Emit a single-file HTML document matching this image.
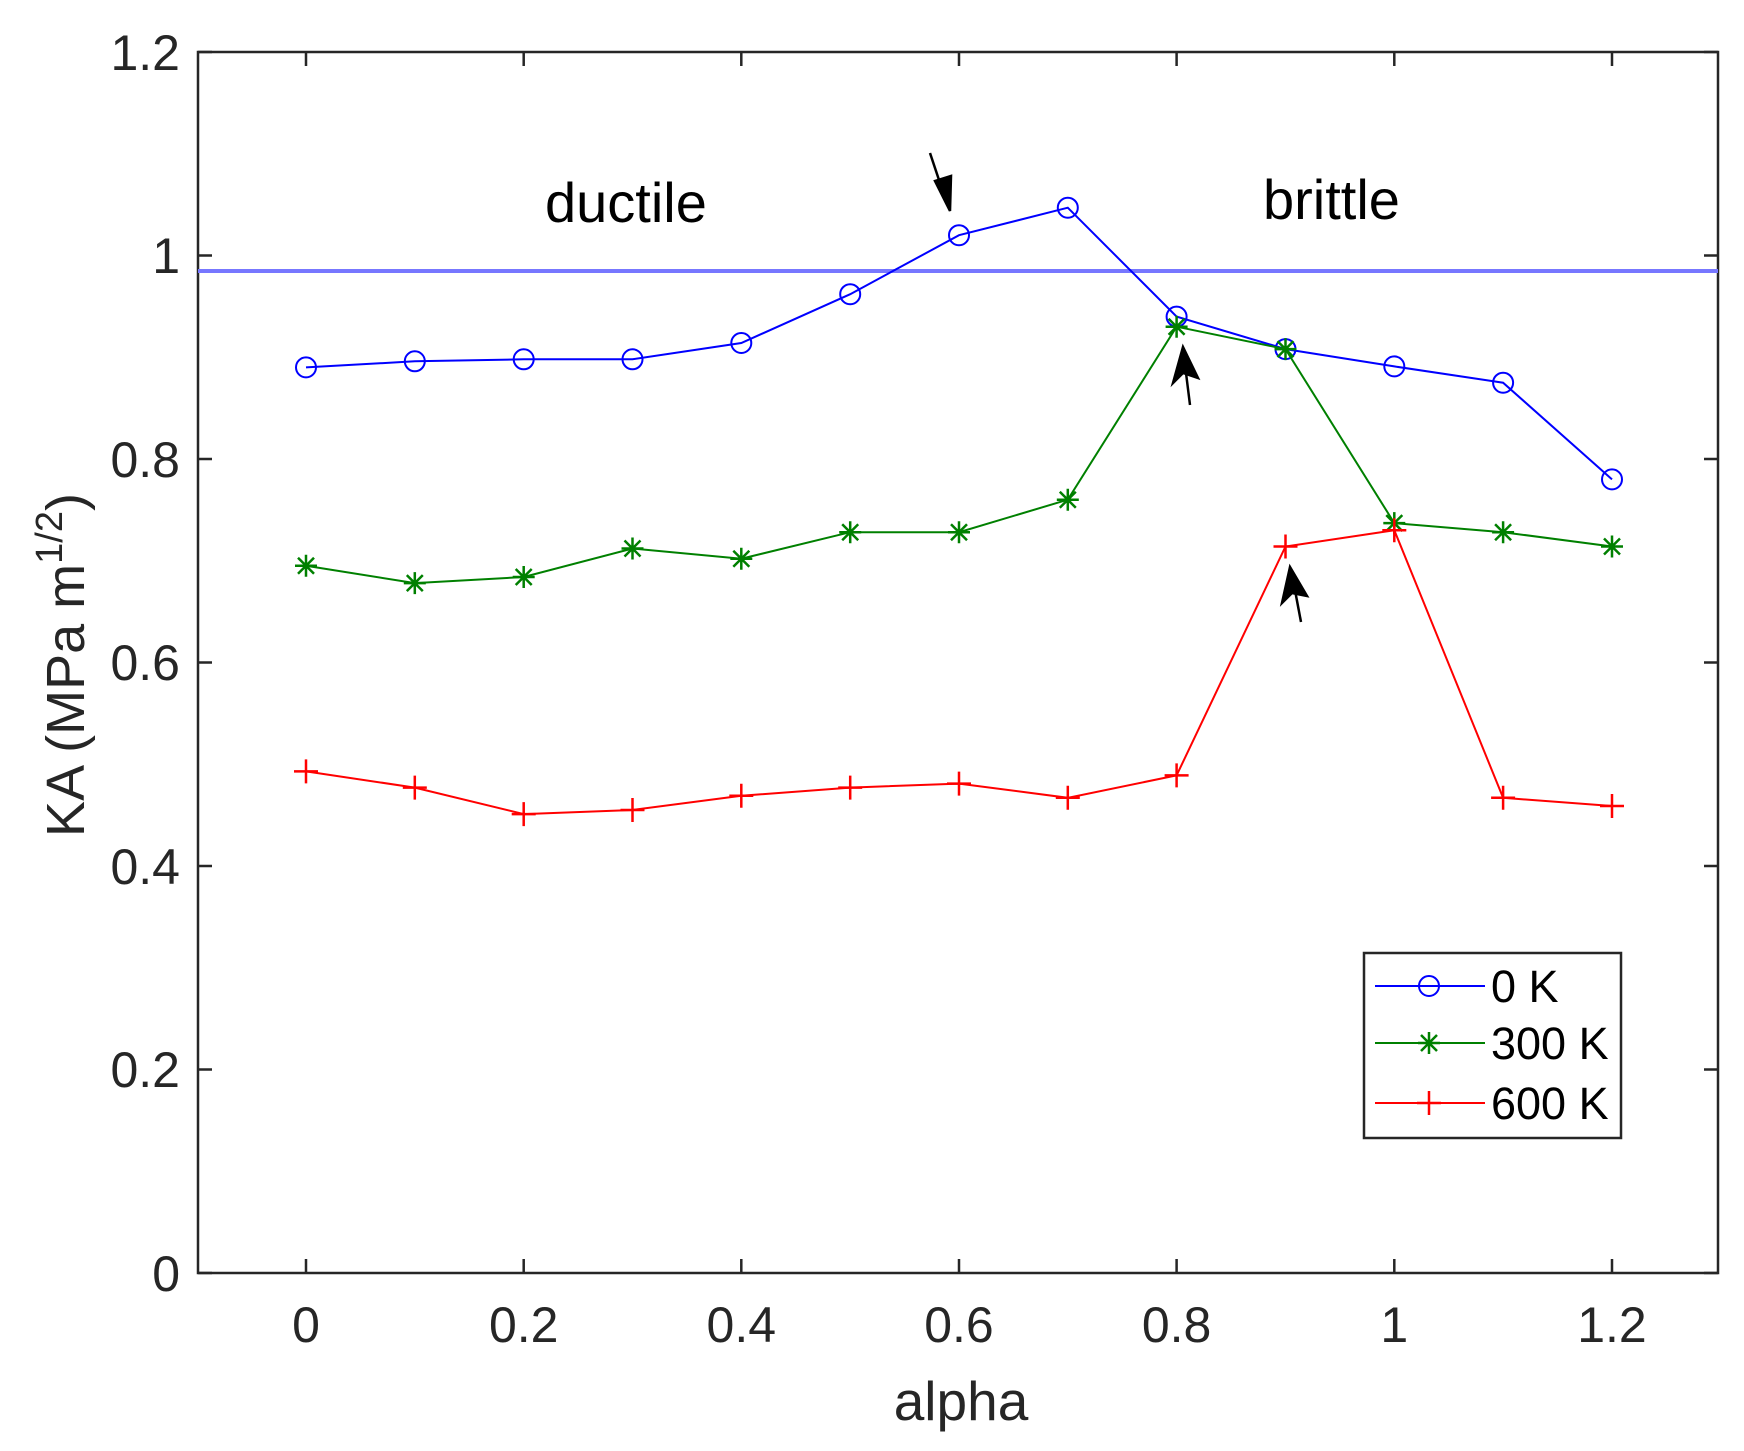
<!DOCTYPE html>
<html><head><meta charset="utf-8"><style>
html,body{margin:0;padding:0;background:#fff;}
svg text{font-family:"Liberation Sans",Arial,sans-serif;}
</style></head><body>
<svg width="1744" height="1446" viewBox="0 0 1744 1446" xmlns="http://www.w3.org/2000/svg">
<rect width="1744" height="1446" fill="#fff"/>
<g stroke="#262626" stroke-width="2.5" fill="none">
<rect x="198" y="52" width="1520" height="1221"/>
<path d="M306 1273v-14M523.7 1273v-14M741.3 1273v-14M959 1273v-14M1176.6 1273v-14M1394.3 1273v-14M1612 1273v-14
M306 52v14M523.7 52v14M741.3 52v14M959 52v14M1176.6 52v14M1394.3 52v14M1612 52v14
M198 1273h14M198 1069.5h14M198 866h14M198 662.5h14M198 459h14M198 255.5h14M198 52h14
M1718 1273h-14M1718 1069.5h-14M1718 866h-14M1718 662.5h-14M1718 459h-14M1718 255.5h-14M1718 52h-14"/>
</g>
<g fill="#262626" font-size="50" text-anchor="end">
<text x="180" y="1291">0</text><text x="180" y="1087">0.2</text><text x="180" y="884">0.4</text>
<text x="180" y="680">0.6</text><text x="180" y="477">0.8</text><text x="180" y="273">1</text><text x="180" y="70">1.2</text>
</g>
<g fill="#262626" font-size="50" text-anchor="middle">
<text x="306" y="1342">0</text><text x="523.7" y="1342">0.2</text><text x="741.3" y="1342">0.4</text>
<text x="959" y="1342">0.6</text><text x="1176.6" y="1342">0.8</text><text x="1394.3" y="1342">1</text><text x="1612" y="1342">1.2</text>
</g>
<text x="961" y="1420" font-size="55" fill="#262626" text-anchor="middle">alpha</text>
<text transform="translate(84,665) rotate(-90)" font-size="54" fill="#262626" text-anchor="middle">KA (MPa m<tspan dy="-22" font-size="38">1/2</tspan><tspan dy="22">)</tspan></text>
<text x="545" y="222" font-size="56" fill="#000">ductile</text>
<text x="1263" y="219" font-size="56" fill="#000">brittle</text>
<line x1="198" y1="271" x2="1718" y2="271" stroke="#7777ff" stroke-width="4"/>
<polyline fill="none" stroke="#0000ff" stroke-width="2" points="306,367.4 414.8,361.3 523.7,359.3 632.5,359.3 741.3,343 850.2,294.2 959,235.2 1067.8,207.7 1176.6,316.6 1285.5,349.1 1394.3,366.4 1503.1,382.7 1612,479.4"/>
<g fill="none" stroke="#0000ff" stroke-width="2">
<circle cx="306" cy="367.4" r="10"/><circle cx="414.8" cy="361.3" r="10"/><circle cx="523.7" cy="359.3" r="10"/><circle cx="632.5" cy="359.3" r="10"/><circle cx="741.3" cy="343" r="10"/><circle cx="850.2" cy="294.2" r="10"/><circle cx="959" cy="235.2" r="10"/><circle cx="1067.8" cy="207.7" r="10"/><circle cx="1176.6" cy="316.6" r="10"/><circle cx="1285.5" cy="349.1" r="10"/><circle cx="1394.3" cy="366.4" r="10"/><circle cx="1503.1" cy="382.7" r="10"/><circle cx="1612" cy="479.4" r="10"/>
</g>
<defs>
<g id="st"><path d="M-11 0h22M0 -11v22M-8 -8l16 16M-8 8l16 -16" stroke="#008000" stroke-width="2.5"/></g>
<g id="pl"><path d="M-12 0h24M0 -12v24" stroke="#ff0000" stroke-width="2.5"/></g>
</defs>
<polyline fill="none" stroke="#008000" stroke-width="2" points="306,565.8 414.8,583.1 523.7,577 632.5,548.5 741.3,558.7 850.2,532.2 959,532.2 1067.8,499.7 1176.6,326.7 1285.5,349.1 1394.3,523.1 1503.1,532.2 1612,546.5"/>
<g><use href="#st" x="306" y="565.8"/><use href="#st" x="414.8" y="583.1"/><use href="#st" x="523.7" y="577"/><use href="#st" x="632.5" y="548.5"/><use href="#st" x="741.3" y="558.7"/><use href="#st" x="850.2" y="532.2"/><use href="#st" x="959" y="532.2"/><use href="#st" x="1067.8" y="499.7"/><use href="#st" x="1176.6" y="326.7"/><use href="#st" x="1285.5" y="349.1"/><use href="#st" x="1394.3" y="523.1"/><use href="#st" x="1503.1" y="532.2"/><use href="#st" x="1612" y="546.5"/></g>
<polyline fill="none" stroke="#ff0000" stroke-width="2" points="306,771.4 414.8,787.6 523.7,814.1 632.5,810 741.3,795.8 850.2,787.6 959,783.6 1067.8,797.8 1176.6,775.4 1285.5,546.5 1394.3,530.2 1503.1,797.8 1612,806"/>
<g><use href="#pl" x="306" y="771.4"/><use href="#pl" x="414.8" y="787.6"/><use href="#pl" x="523.7" y="814.1"/><use href="#pl" x="632.5" y="810"/><use href="#pl" x="741.3" y="795.8"/><use href="#pl" x="850.2" y="787.6"/><use href="#pl" x="959" y="783.6"/><use href="#pl" x="1067.8" y="797.8"/><use href="#pl" x="1176.6" y="775.4"/><use href="#pl" x="1285.5" y="546.5"/><use href="#pl" x="1394.3" y="530.2"/><use href="#pl" x="1503.1" y="797.8"/><use href="#pl" x="1612" y="806"/></g>
<g stroke="#000" stroke-width="2.5" fill="#000">
<line x1="930" y1="153" x2="944" y2="195"/><polygon points="950,211 935,181 951,176"/>
<line x1="1190" y1="405" x2="1185" y2="365"/><polygon points="1183,347 1173,383 1183,373 1198,378"/>
<line x1="1301" y1="622" x2="1294" y2="585"/><polygon points="1290,567 1282,603 1292,593 1307,596"/>
</g>
<rect x="1364" y="953" width="257" height="185" fill="#fff" stroke="#262626" stroke-width="2.5"/>
<line x1="1375" y1="986" x2="1485" y2="986" stroke="#0000ff" stroke-width="2"/>
<circle cx="1429" cy="986" r="10" fill="none" stroke="#0000ff" stroke-width="2"/>
<line x1="1375" y1="1043" x2="1485" y2="1043" stroke="#008000" stroke-width="2"/>
<use href="#st" x="1429" y="1043"/>
<line x1="1375" y1="1103" x2="1485" y2="1103" stroke="#ff0000" stroke-width="2"/>
<use href="#pl" x="1429" y="1103"/>
<g fill="#000" font-size="45">
<text x="1491" y="1002">0 K</text><text x="1491" y="1059">300 K</text><text x="1491" y="1119">600 K</text>
</g>
</svg>
</body></html>
